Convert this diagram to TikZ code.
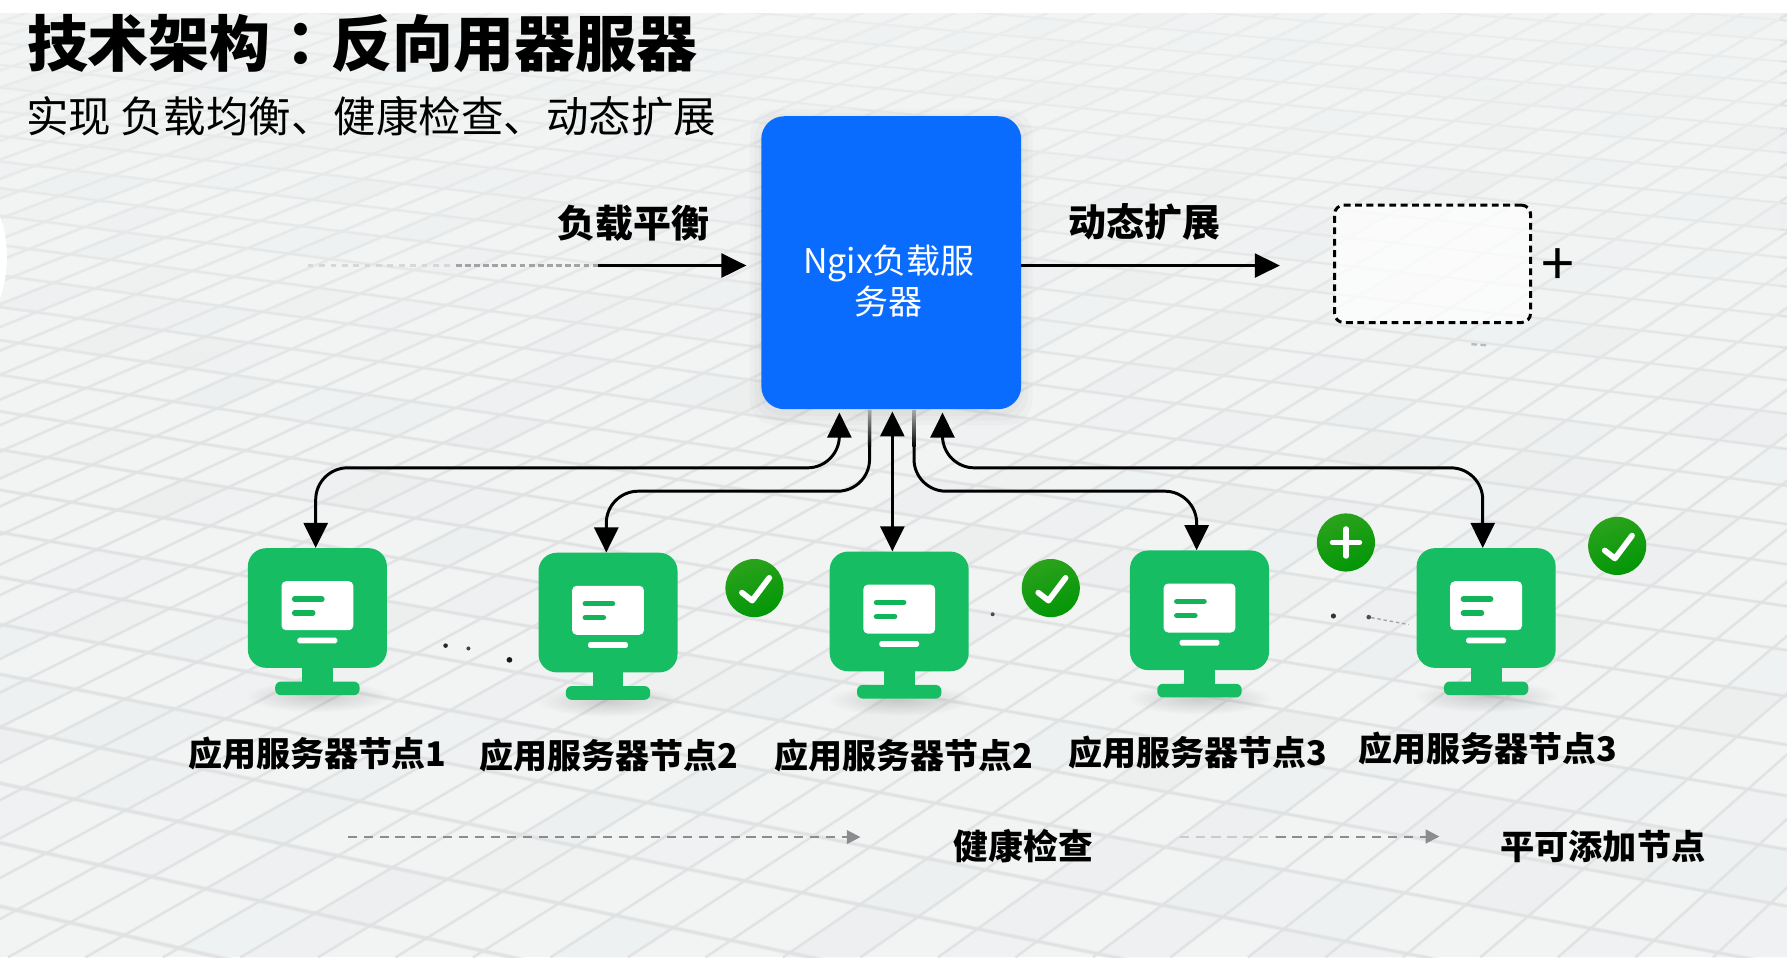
\documentclass[tikz,border=0pt]{standalone}
\usepackage{fontspec}
\setmainfont{Noto Sans CJK SC}
\newfontfamily\cjktc{Noto Sans CJK TC}
\usetikzlibrary{arrows.meta,fadings,calc}
\definecolor{bgc}{HTML}{F2F4F4}
\definecolor{gridc}{HTML}{DFE1E2}
\definecolor{tintc}{HTML}{C9CFD3}
\definecolor{ngxblue}{HTML}{0A6CFE}
\definecolor{mongreen}{HTML}{16BD62}
\definecolor{monbar}{HTML}{12B45A}
\definecolor{badgetop}{HTML}{2BA31C}
\definecolor{badgebot}{HTML}{029606}
\definecolor{lead}{HTML}{8A8C8E}
\tikzfading[name=softout,inner color=transparent!0,outer color=transparent!100]
\tikzset{
  x=1pt,y=-1pt,
  txt/.style={inner sep=0pt,text=black,font=\bfseries\fontsize{#1}{#1}\selectfont},
  thintxt/.style={inner sep=0pt,text=black,font=\fontsize{#1}{#1}\selectfont},
  link/.style={draw=black,line width=2.6pt,rounded corners=28pt},
  tip/.style={-{Stealth[length=22pt,width=21pt,inset=0pt]}},
  tips/.style={{Stealth[length=22pt,width=21pt,inset=0pt]}-{Stealth[length=22pt,width=21pt,inset=0pt]}},
  fadeline/.style={draw=lead,line width=1.8pt,dash pattern=on 8pt off 6pt},
  smalltip/.style={-{Stealth[length=12pt,width=12pt,inset=0pt,fill=lead]}},
  monbody/.style={fill=mongreen,rounded corners=16pt,minimum width=122pt,minimum height=105pt,inner sep=0pt},
  badge/.style={circle,top color=badgetop,bottom color=badgebot,shading angle=20,minimum size=51pt,inner sep=0pt},
  badgemark/.style={draw=white,line width=5pt,line cap=round,line join=round},
  speck/.style={circle,fill=#1,inner sep=0pt,minimum size=4pt},
}
% corner of the floor grid: crossing of row #1 and column #2, stored in #3/#4
\newcommand{\floorpt}[4]{%
  \pgfmathsetmacro\fya{1614/(1+0.0296*#1)-976}%
  \pgfmathsetmacro\fm{(\fya+580)/5900}%
  \pgfmathsetmacro\fxb{-265+68*#2}%
  \pgfmathsetmacro\ft{(\fya+3700*\fm+1225)/(2065-\fm*(\fxb-3700))}%
  \pgfmathsetmacro#3{3700+\ft*(\fxb-3700)}%
  \pgfmathsetmacro#4{-1225+\ft*2065}%
}
\begin{document}
\begin{tikzpicture}
\useasboundingbox (0,0) rectangle (1568,840);
\fill[bgc] (0,0) rectangle (1568,840);
\begin{scope}
\clip (0,0) rectangle (1568,840);
% tinted floor tiles
\pgfmathsetseed{4711}
\foreach \n in {-3,...,36}{
  \foreach \k in {-38,...,28}{
    \pgfmathrandominteger{\pick}{0}{5}
    \ifnum\pick<2
      \pgfmathrandominteger{\tint}{4}{12}
      \pgfmathtruncatemacro\nn{\n+1}
      \pgfmathtruncatemacro\kk{\k+1}
      \floorpt{\n}{\k}{\xa}{\ya}
      \floorpt{\n}{\kk}{\xb}{\yb}
      \floorpt{\nn}{\kk}{\xc}{\yc}
      \floorpt{\nn}{\k}{\xd}{\yd}
      \fill[tintc,opacity=\tint/100] (\xa,\ya) -- (\xb,\yb) -- (\xc,\yc) -- (\xd,\yd) -- cycle;
    \fi
  }
}
% perspective floor grid
\foreach \n in {-7,...,38}{
  \pgfmathsetmacro\ya{1614/(1+0.0296*\n)-976}
  \pgfmathsetmacro\yb{-580+(\ya+580)*(7468/5900)}
  \pgfmathsetmacro\w{max(0.5,(\ya+976)/1000)}
  \draw[gridc,opacity=.45,line width=\w*2.4pt] (0,\ya) -- (1568,\yb);
  \draw[gridc,line width=\w*1.2pt] (0,\ya) -- (1568,\yb);
}
\foreach \k in {-40,...,30}{
  \pgfmathsetmacro\xb{-265+68*\k}
  \draw[gridc,opacity=.45,line width=2.8pt] (3700,-1225) -- (\xb,840);
  \draw[gridc,line width=1.4pt] (3700,-1225) -- (\xb,840);
}
\fill[bgc,path fading=south,opacity=.6] (0,0) rectangle (1568,460);
\end{scope}
\fill[white] (0,190) .. controls (8,210) and (8,240) .. (0,262) -- cycle;

% texts at the top
\node[txt=53.5,anchor=west] (title) at (23.5,38) {技术架构{\cjktc ：}反向用器服器};
\fill[white] (0,0) rectangle (1568,11);
\node[thintxt=37.3,anchor=west] (subtitle) at (23,102) {实现 负载均衡、健康检查、动态扩展};

% shadow and Nginx box
\foreach \g in {2,6,10}{
  \fill[black,opacity=.018,rounded corners=22pt] (668-\g,102-\g+4) rectangle (896+\g,359+\g+4);
}
\node[fill=ngxblue,rounded corners=20pt,minimum width=228pt,minimum height=257pt,inner sep=0pt] (ngx) at (782,230.5) {};
\node[inner sep=0pt,text=white,align=center,font=\fontsize{29.8}{36}\selectfont] (ngxlabel) at (780,247) {Ngix负载服\\务器};

\node[txt=33.3] (lb) at (555.5,196) {负载平衡};
\node[txt=33.3] (ds) at (1004,195) {动态扩展};
\node[draw=black,fill=white,fill opacity=.72,text opacity=1,line width=2.6pt,dash pattern=on 6pt off 4pt,rounded corners=8pt,minimum width=172pt,minimum height=103pt,inner sep=0pt] (slot) at (1257,231.5) {};
\node[thintxt=52] (plus) at (1367,234.5) {+};
\coordinate (in1) at (270,233);
\coordinate (in2) at (400,233);
\coordinate (in3) at (525,233);
\coordinate (in4) at (655,233);
\coordinate (ds1) at (1123,233);
\draw[lead!35,line width=2pt,dash pattern=on 5pt off 5pt] (in1) -- (in2);
\draw[lead!80,line width=2pt,dash pattern=on 5pt off 3pt] (in2) -- (in3);
\draw[tip,black,line width=2.4pt] (in3) -- (in4);
\draw[tip,black,line width=2.4pt] (ngx.east |- in4) -- (ds1);
\coordinate (sp1) at (1291,302);
\coordinate (sp2) at (1305,303);
\draw[lead!60,line width=2pt,dash pattern=on 5pt off 3pt] (sp1) -- (sp2);

% monitors
\foreach \n/\cx/\ty/\ly/\txtnum/\lx in {1/278.5/481/661/1/278.5,2/533.5/485/663/2/534.5,3/789/484/663/2/793,4/1052.5/483/660/3/1051,5/1304/481/657/3/1305.5}{
  \fill[black,opacity=.16,path fading=softout] (\cx,\ty+130) ellipse (64 and 14);
  \fill[mongreen] (\cx-13.5,\ty+100) rectangle (\cx+13.5,\ty+120);
  \node[fill=mongreen,rounded corners=5pt,minimum width=74pt,minimum height=12pt,inner sep=0pt] (b\n) at (\cx,\ty+123) {};
  \node[monbody] (m\n) at (\cx,\ty+52.5) {};
  \node[fill=white,rounded corners=4pt,minimum width=63pt,minimum height=43pt,inner sep=0pt] (s\n) at (\cx,\ty+50.5) {};
  \draw[monbar,line width=4.7pt,line cap=round] (\cx-20,\ty+44.7) -- (\cx+4,\ty+44.7);
  \draw[monbar,line width=4.7pt,line cap=round] (\cx-20,\ty+57) -- (\cx-4,\ty+57);
  \fill[white,rounded corners=1.5pt] (\cx-17.5,\ty+78.5) rectangle (\cx+17.5,\ty+83.5);
  \node[txt=29.8] (l\n) at (\lx,\ly) {应用服务器节点\txtnum};
}

% connectors
\coordinate (a1) at (736.5,362);
\coordinate (a2) at (763,360);
\coordinate (a3) at (783,361);
\coordinate (a4) at (802,360);
\coordinate (a5) at (827,362);
\coordinate (g2) at (763,392);
\coordinate (g4) at (802,392);
\draw[link,tips] (a1) -- ++(0,48.5) -| ([xshift=-1.5pt]m1.north);
\draw[link,tip] (a2) -- ++(0,71) -| ([xshift=-1.5pt]m2.north);
\draw[tips,black,line width=2.6pt] (a3) -- (a3 |- m3.north);
\draw[link,tip] (a4) -- ++(0,71) -| ([xshift=-2.5pt]m4.north);
\draw[link,tips] (a5) -- ++(0,48.5) -| ([xshift=-3pt]m5.north);
\shade[top color=lead!75,bottom color=black] ([xshift=-1.4pt]a2) rectangle ([xshift=1.4pt]g2);
\shade[top color=lead!75,bottom color=black] ([xshift=-1.4pt]a4) rectangle ([xshift=1.4pt]g4);

% badges
\foreach \n/\cx/\cy in {1/662/516,2/922/516,3/1419/479}{
  \node[badge] (c\n) at (\cx,\cy) {};
  \draw[badgemark] ([shift={(-11,4)}]c\n.center) -- ++(9,7) -- ++(15,-20);
}
\node[badge] (p1) at (1181,476) {};
\draw[badgemark,line width=4.5pt] ([shift={(-12,0)}]p1.center) -- ([shift={(12,0)}]p1.center);
\draw[badgemark,line width=4.5pt] ([shift={(0,-12)}]p1.center) -- ([shift={(0,12)}]p1.center);

% specks between the monitors
\node[speck=black!85,minimum size=4pt] (d1) at (391,566.5) {};
\node[speck=black!75,minimum size=3.5pt] (d2) at (411,569) {};
\node[speck=black!90,minimum size=5pt] (d3) at (447,579) {};
\node[speck=black!70,minimum size=3.5pt] (d4) at (871,539) {};
\node[speck=black!80,minimum size=4.5pt] (d5) at (1170,540.5) {};
\node[speck=black!70,minimum size=4pt] (d6) at (1201,541.5) {};
\coordinate (d7) at (1236,548);
\draw[lead!80,line width=1.2pt,dash pattern=on 3pt off 2.5pt] (d6) -- (d7);

% bottom legend
\coordinate (h1) at (305,734.5);
\coordinate (h2) at (755,734.5);
\coordinate (e1) at (1035,734);
\coordinate (e2) at (1120,734);
\coordinate (e3) at (1263,734);
\draw[fadeline,smalltip] (h1) -- (h2);
\draw[fadeline,draw=lead!45] (e1) -- (e2);
\draw[fadeline,smalltip] (e2) -- (e3);
\node[txt=30.5] (hc) at (898,742) {健康检查};
\node[txt=30] (ad) at (1406.5,743) {平可添加节点};
\end{tikzpicture}
\end{document}
